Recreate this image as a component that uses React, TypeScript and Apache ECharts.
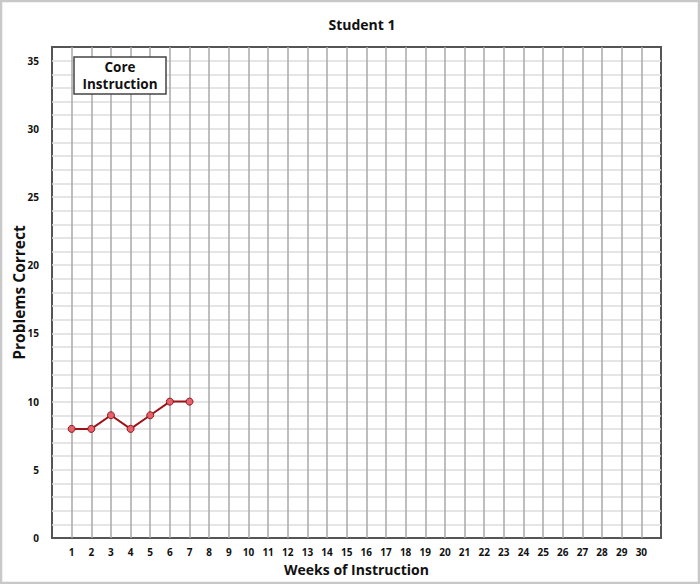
import React, { useEffect, useRef } from "react";
import * as echarts from "echarts";

const title = "Student 1";
const xName = "Weeks of Instruction";
const yName = "Problems Correct";
const annotation = "Core\nInstruction";
const weeks = [1, 2, 3, 4, 5, 6, 7];
const scores = [8, 8, 9, 8, 9, 10, 10];
const xMin = 0;
const xMax = 31;
const yMin = 0;
const yMax = 36;

const FONT = "Open Sans";

export default function App() {
  const ref = useRef<HTMLDivElement>(null);
  useEffect(() => {
    if (!ref.current) return;
    const chart = echarts.init(ref.current, undefined, { renderer: "svg" });
    const data = weeks.map((w, i) => [w, scores[i]]);
    chart.setOption({
      animation: false,
      backgroundColor: "#ffffff",
      textStyle: { fontFamily: FONT },
      title: {
        text: title,
        left: 357,
        textAlign: "center",
        top: 12,
        textStyle: { fontFamily: FONT, fontSize: 14, fontWeight: "bold", color: "#111" },
      },
      grid: {
        left: 52,
        right: 39,
        top: 47,
        bottom: 46,
        show: true,
        borderColor: "#555",
        borderWidth: 2,
        backgroundColor: "#fff",
        containLabel: false,
        outerBoundsMode: "none",
      },
      xAxis: {
        type: "value",
        min: xMin,
        max: xMax,
        interval: 1,
        name: xName,
        nameLocation: "middle",
        nameGap: 24,
        nameMoveOverlap: false,
        nameTextStyle: { fontFamily: FONT, fontSize: 14, fontWeight: "bold", color: "#111" },
        axisLine: { show: false },
        axisTick: { show: false },
        axisLabel: {
          fontFamily: FONT,
          fontSize: 10,
          fontWeight: "bold",
          color: "#111",
          margin: 9,
          formatter: (v: number) => (v >= 1 && v <= 30 ? String(v) : ""),
        },
        splitLine: {
          show: true,
          showMinLine: false,
          showMaxLine: false,
          lineStyle: { color: "#a8a8a8", width: 1.5 },
        },
      },
      yAxis: {
        type: "value",
        min: yMin,
        max: yMax,
        interval: 1,
        name: yName,
        nameLocation: "middle",
        nameGap: 25,
        nameMoveOverlap: false,
        nameTextStyle: { fontFamily: FONT, fontSize: 15.5, fontWeight: "bold", color: "#111" },
        axisLine: { show: false },
        axisTick: { show: false },
        axisLabel: {
          fontFamily: FONT,
          fontSize: 10,
          fontWeight: "bold",
          color: "#111",
          margin: 13,
          formatter: (v: number) => (v % 5 === 0 && v <= 35 ? String(v) : ""),
        },
        splitLine: {
          show: true,
          showMinLine: false,
          showMaxLine: false,
          lineStyle: { color: "#dcdcdc", width: 1.5 },
        },
      },
      series: [
        {
          type: "line",
          data,
          symbol: "circle",
          symbolSize: 7,
          lineStyle: { color: "#9b1218", width: 2 },
          itemStyle: { color: "#e8606a", borderColor: "#8a1a20", borderWidth: 1 },
          z: 5,
        },
      ],
      graphic: [
        {
          type: "rect",
          shape: { x: 1, y: 1, width: 698, height: 582 },
          style: { fill: "none", stroke: "#c8c8c8", lineWidth: 2.5 },
          silent: true,
          z: 100,
        },
        {
          type: "rect",
          shape: { x: 74, y: 57, width: 92, height: 37 },
          style: { fill: "#ffffff", stroke: "#444", lineWidth: 1.5 },
          z: 50,
        },
        {
          type: "text",
          x: 120,
          y: 75.5,
          z: 51,
          style: {
            text: annotation,
            fontFamily: FONT,
            fontSize: 13.5,
            fontWeight: "bold",
            fill: "#111",
            align: "center",
            verticalAlign: "middle",
            lineHeight: 17,
          },
        },
      ],
    });
    return () => chart.dispose();
  }, []);
  return (
    <div
      ref={ref}
      style={{ position: "fixed", left: 0, top: 0, width: 700, height: 584 }}
    />
  );
}
